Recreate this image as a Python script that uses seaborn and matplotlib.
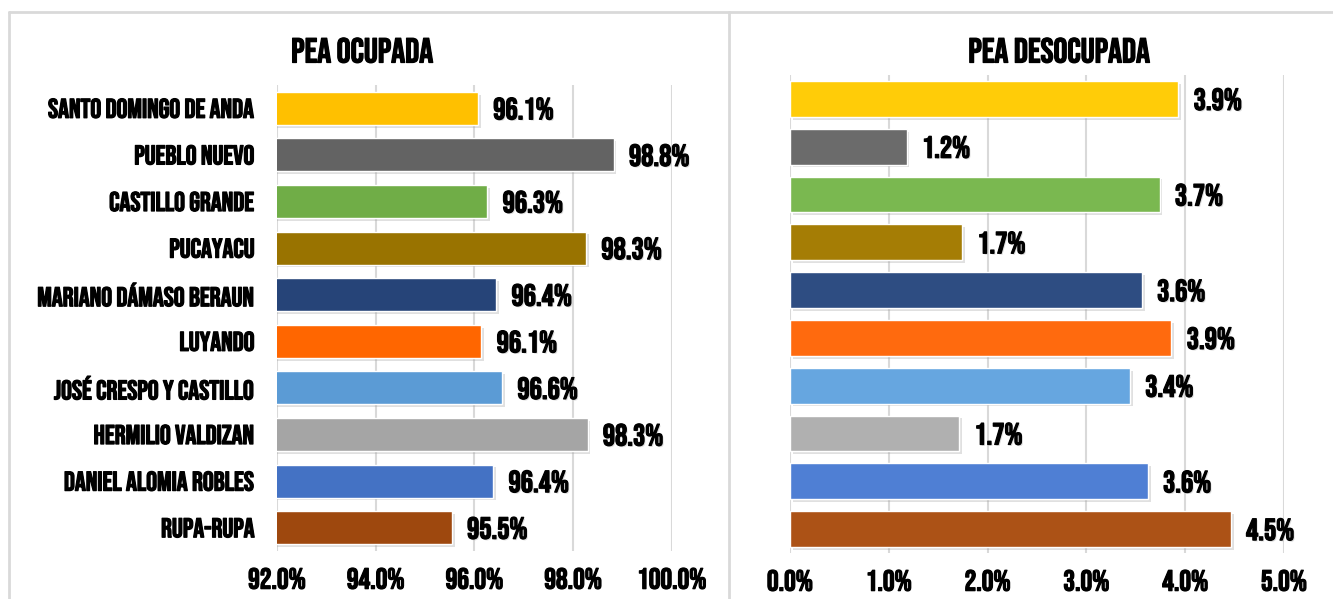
import matplotlib
matplotlib.use("Agg")
import matplotlib.pyplot as plt
import matplotlib.patheffects as pe
from matplotlib.lines import Line2D
from matplotlib.ticker import FuncFormatter
import seaborn as sns

# data
districts = [
    "Santo Domingo de Anda",
    "Pueblo Nuevo",
    "Castillo Grande",
    "Pucayacu",
    "Mariano Dámaso Beraun",
    "Luyando",
    "José Crespo Y Castillo",
    "Hermilio Valdizan",
    "Daniel Alomia Robles",
    "Rupa-Rupa",
]
pea_ocupada = [96.07, 98.82, 96.26, 98.26, 96.44, 96.14, 96.56, 98.29, 96.38, 95.54]
pea_desocupada = [3.93, 1.18, 3.74, 1.74, 3.56, 3.86, 3.44, 1.71, 3.62, 4.46]

colors_left = ["#FFC000", "#636363", "#70AD47", "#997300", "#264478",
               "#FF6600", "#5B9BD5", "#A5A5A5", "#4472C4", "#9E480E"]
colors_right = ["#FFCC08", "#6B6B6B", "#7AB850", "#A57D05", "#2E4D82",
                "#FF6A0E", "#66A6E0", "#B0B0B0", "#4F7FD4", "#AC5216"]

sns.set_style("white")
FONT = ["Bebas Neue", "Oswald", "Barlow Condensed", "DejaVu Sans"]
plt.rcParams["font.family"] = FONT
plt.rcParams["text.color"] = "black"
plt.rcParams["xtick.color"] = "black"
plt.rcParams["ytick.color"] = "black"

fig = plt.figure(figsize=(13.33, 5.99), dpi=100)
ax1 = fig.add_axes([0.2078, 0.0801, 0.2963, 0.778])
ax2 = fig.add_axes([0.5927, 0.0768, 0.3706, 0.798])

shadow = [pe.SimplePatchShadow(offset=(2, -2), shadow_rgbFace="#999999", alpha=0.3), pe.Normal()]
# slightly heavier strokes to mimic the bold condensed face
bold = [pe.withStroke(linewidth=0.9, foreground="black")]
bold_shadow = [pe.SimplePatchShadow(offset=(1, -1), shadow_rgbFace="#bbbbbb", alpha=0.5),
               pe.withStroke(linewidth=0.9, foreground="black")]


def draw_panel(ax, values, colors, xlim, ticks, width, show_y):
    sns.barplot(x=values, y=districts, hue=districts, palette=colors,
                legend=False, orient="h", width=width, ax=ax, saturation=1)
    for patch in ax.patches:
        patch.set_path_effects(shadow)
    for cont, v in zip(ax.containers, values):
        ax.bar_label(cont, labels=[f"{v:.1f}%"], padding=11, fontsize=22,
                     path_effects=bold_shadow)
    ax.set_xlim(*xlim)
    ax.set_xticks(ticks)
    ax.xaxis.set_major_formatter(FuncFormatter(lambda x, p: f"{x:.1f}%"))
    ax.grid(axis="x", color="#D9D9D9", linewidth=1.5)
    ax.set_axisbelow(True)
    for s in ax.spines.values():
        s.set_visible(False)
    ax.tick_params(axis="x", length=0, pad=12, labelsize=21)
    ax.tick_params(axis="y", length=0, pad=16, labelsize=19.5)
    ax.set_xlabel("")
    ax.set_ylabel("")
    if show_y:
        ax.set_yticks(range(len(districts)))
        ax.set_yticklabels([d.upper() for d in districts])
    else:
        ax.set_yticks([])
    for lab in ax.get_xticklabels() + ax.get_yticklabels():
        lab.set_path_effects(bold)


draw_panel(ax1, pea_ocupada, colors_left, (92, 100), [92, 94, 96, 98, 100], 0.71, True)
draw_panel(ax2, pea_desocupada, colors_right, (0, 5), [0, 1, 2, 3, 4, 5], 0.75, False)

fig.text(362 / 1333, 1 - 50 / 599, "PEA Ocupada".upper(), fontsize=25,
         ha="center", va="center", path_effects=bold)
fig.text(1059 / 1333, 1 - 50 / 599, "PEA Desocupada".upper(), fontsize=25,
         ha="center", va="center", path_effects=bold)

# panel borders
border = dict(color="#D9D9D9", linewidth=2, transform=fig.transFigure)
fig.add_artist(Line2D([9 / 1333, 1], [1 - 12 / 599, 1 - 12 / 599], **border))
fig.add_artist(Line2D([9 / 1333, 9 / 1333], [0, 1 - 12 / 599], **border))
fig.add_artist(Line2D([729 / 1333, 729 / 1333], [0, 1 - 12 / 599], **border))

plt.savefig("out.png", dpi=100)
plt.close()
